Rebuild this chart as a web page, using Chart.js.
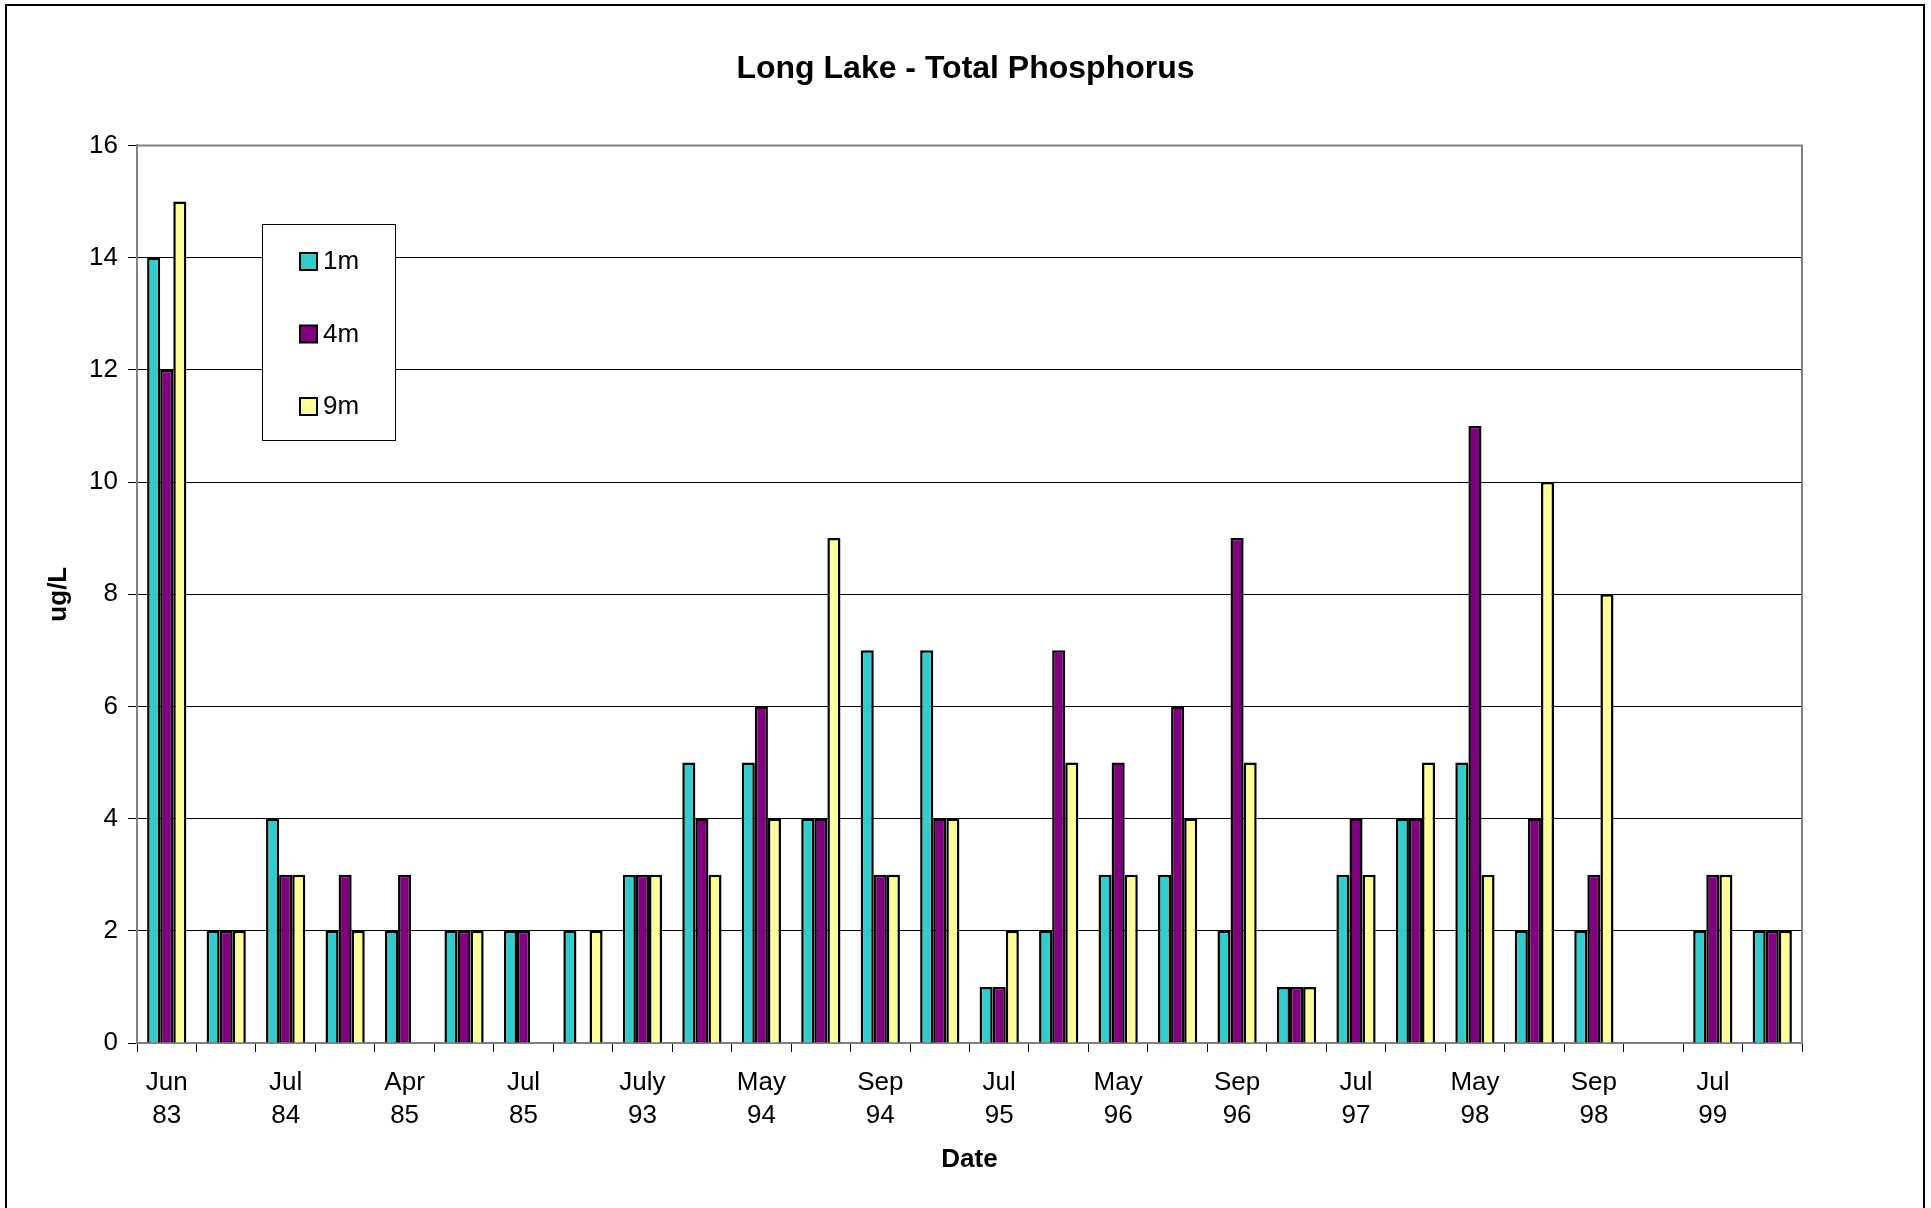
<!DOCTYPE html>
<html>
<head>
<meta charset="utf-8">
<script src="https://cdn.jsdelivr.net/npm/chart.js@4.4.0/dist/chart.umd.min.js"></script>
<style>
  body { margin: 0; background: #fff; }
</style>
</head>
<body>
<canvas id="myChart" width="1931" height="1208"></canvas>
<script>
const ctx = document.getElementById('myChart');

const dates = [
  ['Jun', '83'], '', ['Jul', '84'], '', ['Apr', '85'], '', ['Jul', '85'], '',
  ['July', '93'], '', ['May', '94'], '', ['Sep', '94'], '', ['Jul', '95'], '',
  ['May', '96'], '', ['Sep', '96'], '', ['Jul', '97'], '', ['May', '98'], '',
  ['Sep', '98'], '', ['Jul', '99'], ''
];

const p1m = [14, 2, 4, 2, 2, 2, 2, 2, 3, 5, 5, 4, 7, 7, 1, 2, 3, 3, 2, 1, 3, 4, 5, 2, 2, null, 2, 2];
const p4m = [12, 2, 3, 3, 3, 2, 2, null, 3, 4, 6, 4, 3, 4, 1, 7, 5, 6, 9, 1, 4, 4, 11, 4, 3, null, 3, 2];
const p9m = [15, 2, 3, 2, null, 2, null, 2, 3, 3, 4, 9, 3, 4, 2, 5, 3, 4, 5, 1, 3, 5, 3, 10, 8, null, 3, 2];

const yTicks = [0, 2, 4, 6, 8, 10, 12, 14, 16];

const font = 'Liberation Sans, Arial, sans-serif';

// frame around the page, top/right edge of plot area, and the boxed legend
const extras = {
  id: 'extras',
  afterDraw(chart) {
    const c = chart.ctx;
    const a = chart.chartArea;
    c.save();
    c.strokeStyle = '#808080';
    c.lineWidth = 2;
    c.beginPath();
    c.moveTo(a.left, a.top);
    c.lineTo(a.right, a.top);
    c.lineTo(a.right, a.bottom);
    c.stroke();

    c.strokeStyle = '#000';
    c.lineWidth = 2;
    c.strokeRect(6, 5, 1918, 1230);

    // legend
    c.fillStyle = '#fff';
    c.fillRect(262, 224, 133, 216);
    c.lineWidth = 1;
    c.strokeStyle = '#000';
    c.strokeRect(262.5, 224.5, 133, 216);
    c.font = '26px ' + font;
    c.textBaseline = 'middle';
    chart.data.datasets.forEach((ds, i) => {
      const y = 261 + i * 72.5;
      c.fillStyle = ds.backgroundColor;
      c.fillRect(300, y - 8, 17, 17);
      c.lineWidth = 2;
      c.strokeRect(300, y - 8, 17, 17);
      c.fillStyle = '#000';
      c.fillText(ds.label, 323, y + 1);
    });
    c.restore();
  }
};

new Chart(ctx, {
  type: 'bar',
  data: {
    labels: dates,
    datasets: [
      { label: '1m', data: p1m, backgroundColor: '#33CCCC', borderColor: '#000', borderWidth: 2.5 },
      { label: '4m', data: p4m, backgroundColor: '#800080', borderColor: '#000', borderWidth: 2.5 },
      { label: '9m', data: p9m, backgroundColor: '#FFFF99', borderColor: '#000', borderWidth: 2.5 }
    ]
  },
  options: {
    responsive: false,
    animation: false,
    categoryPercentage: 0.66,
    barPercentage: 1.0,
    layout: { padding: { left: 39, right: 39, top: 50, bottom: 29 } },
    plugins: {
      legend: { display: false },
      tooltip: { enabled: false },
      title: {
        display: true,
        text: 'Long Lake - Total Phosphorus',
        color: '#000',
        font: { family: font, size: 32, weight: 'bold' },
        padding: { top: 0, bottom: 57 }
      }
    },
    scales: {
      x: {
        grid: { drawOnChartArea: false, drawTicks: true, tickLength: 9, color: '#000', offset: true },
        border: { display: true, color: '#808080', width: 2 },
        ticks: {
          autoSkip: false, maxRotation: 0, minRotation: 0, padding: 14, color: '#000',
          font: { family: font, size: 26, lineHeight: 1.29 }
        },
        title: {
          display: true, text: 'Date', color: '#000',
          font: { family: font, size: 26, weight: 'bold' }
        },
        afterFit(scale) { scale.height = 136; }
      },
      y: {
        min: 0,
        max: 16,
        afterBuildTicks(scale) { scale.ticks = yTicks.map(v => ({ value: v })); },
        grid: { color: '#000', lineWidth: 1, tickLength: 9, drawTicks: true },
        border: { display: true, color: '#808080', width: 2 },
        ticks: { padding: 10, color: '#000', font: { family: font, size: 26 } },
        title: {
          display: true, text: 'ug/L', color: '#000',
          font: { family: font, size: 26, weight: 'bold' }
        },
        afterFit(scale) { scale.width = 98; }
      },
      yR: {
        position: 'right',
        display: true,
        grid: { display: false },
        border: { display: false },
        ticks: { display: false },
        afterFit(scale) { scale.width = 90; }
      }
    }
  },
  plugins: [extras]
});
</script>
</body>
</html>
